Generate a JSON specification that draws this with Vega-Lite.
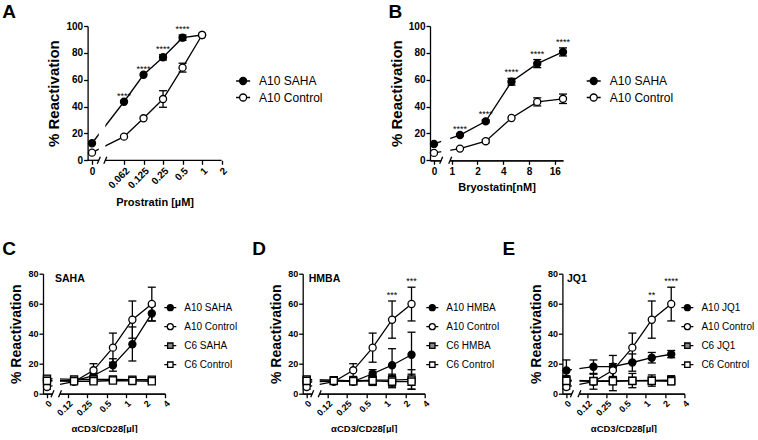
{
  "$schema": "https://vega.github.io/schema/vega-lite/v6.json",
  "background": "white",
  "padding": {"left": 2, "top": 3, "right": 0, "bottom": 0},
  "config": {
    "view": {"stroke": null},
    "font": "Liberation Sans",
    "axis": {"grid": false, "domainColor": "black", "tickColor": "black", "domainWidth": 1.3, "tickWidth": 1.3, "tickSize": 4, "labelColor": "black", "labelFont": "Liberation Sans", "labelFontWeight": "bold", "labelFontSize": 10, "labelPadding": 1, "labelOverlap": false, "titleColor": "black", "titleFont": "Liberation Sans", "titleFontWeight": "bold"},
    "legend": {"labelFont": "Liberation Sans", "labelColor": "black", "padding": 0},
    "title": {"font": "Liberation Sans", "fontSize": 19, "fontWeight": "bold", "anchor": "start", "frame": "group", "color": "black"}
  },
  "spacing": 31.7,
  "resolve": {"scale": {"color": "independent", "shape": "independent"}, "legend": {"color": "independent", "shape": "independent"}},
  "vconcat": [
    {
      "spacing": 208,
      "bounds": "flush",
      "resolve": {"scale": {"color": "independent", "shape": "independent"}, "legend": {"color": "independent", "shape": "independent"}},
      "hconcat": [
        {
          "width": 178.6, "height": 134.3,
          "title": {"text": "A", "dx": -40.7, "offset": -1},
          "data": {"values": [
            {"series": "A10 SAHA", "dose": 0, "mean": 12.7, "lo": 12.7, "hi": 12.7},
            {"series": "A10 SAHA", "dose": 0.0625, "mean": 43.6, "lo": 43.6, "hi": 43.6, "sig": "****"},
            {"series": "A10 SAHA", "dose": 0.125, "mean": 63.7, "lo": 63.7, "hi": 63.7, "sig": "****"},
            {"series": "A10 SAHA", "dose": 0.25, "mean": 76.7, "lo": 74.7, "hi": 78.7, "sig": "****"},
            {"series": "A10 SAHA", "dose": 0.5, "mean": 91.3, "lo": 89.3, "hi": 93.3, "sig": "****"},
            {"series": "A10 SAHA", "dose": 1, "mean": 93.3, "lo": 93.3, "hi": 93.3},
            {"series": "A10 Control", "dose": 0, "mean": 5.7, "lo": 5.7, "hi": 5.7},
            {"series": "A10 Control", "dose": 0.0625, "mean": 17.6, "lo": 17.6, "hi": 17.6},
            {"series": "A10 Control", "dose": 0.125, "mean": 31.3, "lo": 31.3, "hi": 31.3},
            {"series": "A10 Control", "dose": 0.25, "mean": 45.6, "lo": 39.5, "hi": 51.8},
            {"series": "A10 Control", "dose": 0.5, "mean": 69, "lo": 65.7, "hi": 72.3},
            {"series": "A10 Control", "dose": 1, "mean": 93.3, "lo": 93.3, "hi": 93.3}
          ]},
          "encoding": {"y": {"field": "mean", "type": "quantitative", "scale": {"domain": [0, 100], "nice": false}, "axis": {"values": [0, 20, 40, 60, 80, 100], "title": "% Reactivation", "titleFontSize": 15, "titlePadding": 4, "offset": -44.6}}},
          "layer": [
            {
              "encoding": {"x": {"field": "dose", "type": "quantitative", "scale": {"domain": [-0.0957, 0.2531], "nice": false, "zero": false}, "axis": {"values": [0], "labelExpr": "'0'", "title": null, "orient": "bottom", "labelAngle": 0, "labelPadding": 2, "domain": false}}},
              "layer": [
                {"transform": [{"filter": "datum.dose <= 0.0625"}], "mark": {"type": "line", "color": "black", "strokeWidth": 1.3}, "encoding": {"detail": {"field": "series"}}},
                {"transform": [{"filter": "datum.dose == 0 && datum.series == 'A10 Control'"}], "mark": {"type": "rect", "color": "white"}, "encoding": {"x": {"datum": 0.01328}, "x2": {"datum": 0.02598}, "y": {"datum": -4}, "y2": {"datum": 100}}},
                {"transform": [{"filter": "datum.dose == 0 && datum.series == 'A10 Control'"}], "mark": {"type": "rule", "color": "black", "strokeWidth": 1.3}, "encoding": {"x": {"datum": -0.0086}, "x2": {"datum": 0.01328}, "y": {"datum": 0}}},
                {"transform": [{"filter": "datum.dose == 0 && datum.series == 'A10 Control'"}], "mark": {"type": "rule", "color": "black", "strokeWidth": 1.3}, "encoding": {"x": {"datum": 0.02598}, "x2": {"datum": 0.2531}, "y": {"datum": 0}}},
                {"transform": [{"filter": "datum.dose == 0 && datum.series == 'A10 Control'"}], "mark": {"type": "rule", "color": "black", "strokeWidth": 1.3}, "encoding": {"x": {"datum": 0.01035}, "x2": {"datum": 0.01621}, "y": {"datum": -2.6}, "y2": {"datum": 2.6}}},
                {"transform": [{"filter": "datum.dose == 0 && datum.series == 'A10 Control'"}], "mark": {"type": "rule", "color": "black", "strokeWidth": 1.3}, "encoding": {"x": {"datum": 0.02305}, "x2": {"datum": 0.02891}, "y": {"datum": -2.6}, "y2": {"datum": 2.6}}},
                {"transform": [{"filter": "datum.dose == 0"}], "mark": {"type": "point", "shape": "circle", "filled": true, "stroke": "black", "strokeWidth": 1.3, "opacity": 1, "size": 50},
                 "encoding": {"fill": {"condition": {"test": "datum.series == 'A10 SAHA'", "value": "black"}, "value": "white"}}}
              ]
            },
            {
              "encoding": {"x": {"field": "dose", "type": "quantitative", "scale": {"type": "log", "domain": [0.003521, 2], "nice": false}, "axis": {"values": [0.0625, 0.125, 0.25, 0.5, 1, 2], "labelExpr": "datum.value == 0.0625 ? '0.062' : format(datum.value, '~g')", "labelAngle": -45, "title": "Prostratin [µM]", "titleFontSize": 11, "titlePadding": 6, "titleX": 111.6, "orient": "bottom", "domain": false}}},
              "layer": [
                {"transform": [{"filter": "datum.dose > 0"}], "mark": {"type": "line", "color": "black", "strokeWidth": 1.3}, "encoding": {"detail": {"field": "series"}}},
                {"transform": [{"filter": "datum.dose > 0 && datum.hi > datum.lo"}], "mark": {"type": "rule", "color": "black", "strokeWidth": 1.3}, "encoding": {"y": {"field": "lo", "type": "quantitative"}, "y2": {"field": "hi"}}},
                {"transform": [{"filter": "datum.dose > 0 && datum.hi > datum.lo"}], "mark": {"type": "tick", "orient": "horizontal", "color": "black", "size": 8, "thickness": 1.3, "opacity": 1}, "encoding": {"y": {"field": "lo", "type": "quantitative"}}},
                {"transform": [{"filter": "datum.dose > 0 && datum.hi > datum.lo"}], "mark": {"type": "tick", "orient": "horizontal", "color": "black", "size": 8, "thickness": 1.3, "opacity": 1}, "encoding": {"y": {"field": "hi", "type": "quantitative"}}},
                {"transform": [{"filter": "datum.dose > 0"}], "mark": {"type": "point", "shape": "circle", "filled": true, "stroke": "black", "strokeWidth": 1.3, "opacity": 1, "size": 50},
                 "encoding": {"fill": {"condition": {"test": "datum.series == 'A10 SAHA'", "value": "black"}, "value": "white"}}},
                {"transform": [{"filter": "datum.dose > 0 && datum.sig"}], "mark": {"type": "text", "baseline": "alphabetic", "dy": -3, "fontSize": 9, "color": "black"}, "encoding": {"y": {"field": "hi", "type": "quantitative"}, "text": {"field": "sig"}}},
                {"transform": [{"filter": "datum.dose < 0"}], "mark": {"type": "point", "filled": true, "stroke": "black", "strokeWidth": 1.3, "opacity": 1},
                 "encoding": {
                   "color": {"field": "series", "type": "nominal", "scale": {"domain": ["A10 SAHA", "A10 Control"], "range": ["black", "white"]}, "legend": {"orient": "none", "legendX": 192.1, "legendY": 47, "title": null, "labelFontSize": 12, "symbolSize": 196, "rowPadding": 1.5, "labelOffset": 8, "symbolStrokeColor": "black", "symbolStrokeWidth": 1.3}},
                   "shape": {"field": "series", "type": "nominal", "scale": {"domain": ["A10 SAHA", "A10 Control"], "range": ["M-1,0L-0.5,0M0.5,0L1,0M0.5,0A0.5,0.5,0,1,1,-0.5,0A0.5,0.5,0,1,1,0.5,0Z", "M-1,0L-0.5,0M0.5,0L1,0M0.5,0A0.5,0.5,0,1,1,-0.5,0A0.5,0.5,0,1,1,0.5,0Z"]}, "legend": {"orient": "none", "legendX": 192.1, "legendY": 47, "title": null, "labelFontSize": 12, "symbolSize": 196, "rowPadding": 1.5, "labelOffset": 8, "symbolStrokeColor": "black", "symbolStrokeWidth": 1.3}}}}
              ]
            }
          ],
          "resolve": {"scale": {"x": "independent"}, "axis": {"x": "independent"}}
        },
        {
          "width": 133, "height": 134.3,
          "title": {"text": "B", "dx": -41.5, "offset": -1},
          "data": {"values": [
            {"series": "A10 SAHA", "dose": 0, "mean": 12.2, "lo": 12.2, "hi": 12.2},
            {"series": "A10 SAHA", "dose": 1.25, "mean": 18.8, "lo": 18.8, "hi": 18.8, "sig": "****"},
            {"series": "A10 SAHA", "dose": 2.5, "mean": 29, "lo": 28, "hi": 30, "sig": "****"},
            {"series": "A10 SAHA", "dose": 5, "mean": 58.5, "lo": 56, "hi": 61, "sig": "****"},
            {"series": "A10 SAHA", "dose": 10, "mean": 72, "lo": 69, "hi": 75, "sig": "****"},
            {"series": "A10 SAHA", "dose": 20, "mean": 80.7, "lo": 77.7, "hi": 83.7, "sig": "****"},
            {"series": "A10 Control", "dose": 0, "mean": 5.5, "lo": 5.5, "hi": 5.5},
            {"series": "A10 Control", "dose": 1.25, "mean": 8.7, "lo": 8.7, "hi": 8.7},
            {"series": "A10 Control", "dose": 2.5, "mean": 14.2, "lo": 13, "hi": 15.4},
            {"series": "A10 Control", "dose": 5, "mean": 31.5, "lo": 31.5, "hi": 31.5},
            {"series": "A10 Control", "dose": 10, "mean": 43.5, "lo": 40.5, "hi": 46.5},
            {"series": "A10 Control", "dose": 20, "mean": 45.8, "lo": 42.3, "hi": 49.3}
          ]},
          "encoding": {"y": {"field": "mean", "type": "quantitative", "scale": {"domain": [0, 100], "nice": false}, "axis": {"values": [0, 20, 40, 60, 80, 100], "title": "% Reactivation", "titleFontSize": 15, "titlePadding": 4}}},
          "layer": [
            {
              "encoding": {"x": {"field": "dose", "type": "quantitative", "scale": {"domain": [-0.1923, 6.202], "nice": false, "zero": false}, "axis": {"values": [0], "labelExpr": "'0'", "title": null, "orient": "bottom", "labelAngle": 0, "labelPadding": 2}}},
              "layer": [
                {"transform": [{"filter": "datum.dose <= 1.25"}], "mark": {"type": "line", "color": "black", "strokeWidth": 1.3}, "encoding": {"detail": {"field": "series"}}},
                {"transform": [{"filter": "datum.dose == 0 && datum.series == 'A10 Control'"}], "mark": {"type": "rect", "color": "white"}, "encoding": {"x": {"datum": 0.3462}, "x2": {"datum": 0.7788}, "y": {"datum": -4}, "y2": {"datum": 100}}},
                {"transform": [{"filter": "datum.dose == 0 && datum.series == 'A10 Control'"}], "mark": {"type": "rule", "color": "black", "strokeWidth": 1.3}, "encoding": {"x": {"datum": 0.274}, "x2": {"datum": 0.4183}, "y": {"datum": -2.6}, "y2": {"datum": 2.6}}},
                {"transform": [{"filter": "datum.dose == 0 && datum.series == 'A10 Control'"}], "mark": {"type": "rule", "color": "black", "strokeWidth": 1.3}, "encoding": {"x": {"datum": 0.7067}, "x2": {"datum": 0.851}, "y": {"datum": -2.6}, "y2": {"datum": 2.6}}},
                {"transform": [{"filter": "datum.dose == 0"}], "mark": {"type": "point", "shape": "circle", "filled": true, "stroke": "black", "strokeWidth": 1.3, "opacity": 1, "size": 50},
                 "encoding": {"fill": {"condition": {"test": "datum.series == 'A10 SAHA'", "value": "black"}, "value": "white"}}}
              ]
            },
            {
              "encoding": {"x": {"field": "dose", "type": "quantitative", "scale": {"type": "log", "domain": [0.558, 20], "nice": false}, "axis": {"values": [1, 2, 4, 8, 16], "labelExpr": "format(datum.value, 'd')", "labelAngle": 0, "labelPadding": 2, "title": "Bryostatin[nM]", "titleFontSize": 11, "titlePadding": 5, "orient": "bottom"}}},
              "layer": [
                {"transform": [{"filter": "datum.dose > 0"}], "mark": {"type": "line", "color": "black", "strokeWidth": 1.3}, "encoding": {"detail": {"field": "series"}}},
                {"transform": [{"filter": "datum.dose > 0 && datum.hi > datum.lo"}], "mark": {"type": "rule", "color": "black", "strokeWidth": 1.3}, "encoding": {"y": {"field": "lo", "type": "quantitative"}, "y2": {"field": "hi"}}},
                {"transform": [{"filter": "datum.dose > 0 && datum.hi > datum.lo"}], "mark": {"type": "tick", "orient": "horizontal", "color": "black", "size": 8, "thickness": 1.3, "opacity": 1}, "encoding": {"y": {"field": "lo", "type": "quantitative"}}},
                {"transform": [{"filter": "datum.dose > 0 && datum.hi > datum.lo"}], "mark": {"type": "tick", "orient": "horizontal", "color": "black", "size": 8, "thickness": 1.3, "opacity": 1}, "encoding": {"y": {"field": "hi", "type": "quantitative"}}},
                {"transform": [{"filter": "datum.dose > 0"}], "mark": {"type": "point", "shape": "circle", "filled": true, "stroke": "black", "strokeWidth": 1.3, "opacity": 1, "size": 50},
                 "encoding": {"fill": {"condition": {"test": "datum.series == 'A10 SAHA'", "value": "black"}, "value": "white"}}},
                {"transform": [{"filter": "datum.dose > 0 && datum.sig"}], "mark": {"type": "text", "baseline": "alphabetic", "dy": -3, "fontSize": 9, "color": "black"}, "encoding": {"y": {"field": "hi", "type": "quantitative"}, "text": {"field": "sig"}}},
                {"transform": [{"filter": "datum.dose < 0"}], "mark": {"type": "point", "filled": true, "stroke": "black", "strokeWidth": 1.3, "opacity": 1},
                 "encoding": {
                   "color": {"field": "series", "type": "nominal", "scale": {"domain": ["A10 SAHA", "A10 Control"], "range": ["black", "white"]}, "legend": {"orient": "none", "legendX": 155.7, "legendY": 47, "title": null, "labelFontSize": 12, "symbolSize": 196, "rowPadding": 1.5, "labelOffset": 8, "symbolStrokeColor": "black", "symbolStrokeWidth": 1.3}},
                   "shape": {"field": "series", "type": "nominal", "scale": {"domain": ["A10 SAHA", "A10 Control"], "range": ["M-1,0L-0.5,0M0.5,0L1,0M0.5,0A0.5,0.5,0,1,1,-0.5,0A0.5,0.5,0,1,1,0.5,0Z", "M-1,0L-0.5,0M0.5,0L1,0M0.5,0A0.5,0.5,0,1,1,-0.5,0A0.5,0.5,0,1,1,0.5,0Z"]}, "legend": {"orient": "none", "legendX": 155.7, "legendY": 47, "title": null, "labelFontSize": 12, "symbolSize": 196, "rowPadding": 1.5, "labelOffset": 8, "symbolStrokeColor": "black", "symbolStrokeWidth": 1.3}}}}
              ]
            }
          ],
          "resolve": {"scale": {"x": "independent"}, "axis": {"x": "independent"}}
        }
      ]
    },
    {
      "spacing": 137.7,
      "bounds": "flush",
      "resolve": {"scale": {"color": "independent", "shape": "independent"}, "legend": {"color": "independent", "shape": "independent"}},
      "hconcat": [
        {
          "width": 122, "height": 120,
          "title": {"text": "C", "dx": -40.7, "offset": 11},
          "data": {"values": [
            {"series": "A10 SAHA", "dose": 0, "mean": 9, "lo": 9, "hi": 9},
            {"series": "A10 SAHA", "dose": 0.15625, "mean": 8.5, "lo": 8.5, "hi": 8.5},
            {"series": "A10 SAHA", "dose": 0.3125, "mean": 12, "lo": 10, "hi": 14},
            {"series": "A10 SAHA", "dose": 0.625, "mean": 19, "lo": 15, "hi": 23.3},
            {"series": "A10 SAHA", "dose": 1.25, "mean": 33, "lo": 21.8, "hi": 44.5},
            {"series": "A10 SAHA", "dose": 2.5, "mean": 53.5, "lo": 48.5, "hi": 58.5},
            {"series": "A10 Control", "dose": 0, "mean": 4.5, "lo": 3, "hi": 6},
            {"series": "A10 Control", "dose": 0.15625, "mean": 8, "lo": 8, "hi": 8},
            {"series": "A10 Control", "dose": 0.3125, "mean": 15.6, "lo": 11.5, "hi": 20},
            {"series": "A10 Control", "dose": 0.625, "mean": 30.7, "lo": 21, "hi": 40.4},
            {"series": "A10 Control", "dose": 1.25, "mean": 49.3, "lo": 37, "hi": 61.8},
            {"series": "A10 Control", "dose": 2.5, "mean": 59.8, "lo": 48.5, "hi": 71},
            {"series": "C6 SAHA", "dose": 0, "mean": 10, "lo": 8.5, "hi": 11.5},
            {"series": "C6 SAHA", "dose": 0.15625, "mean": 9.5, "lo": 8.5, "hi": 10.5},
            {"series": "C6 SAHA", "dose": 0.3125, "mean": 9.5, "lo": 9.5, "hi": 9.5},
            {"series": "C6 SAHA", "dose": 0.625, "mean": 9.5, "lo": 9.5, "hi": 9.5},
            {"series": "C6 SAHA", "dose": 1.25, "mean": 9.3, "lo": 9.3, "hi": 9.3},
            {"series": "C6 SAHA", "dose": 2.5, "mean": 9.3, "lo": 9.3, "hi": 9.3},
            {"series": "C6 Control", "dose": 0, "mean": 8.5, "lo": 7, "hi": 10},
            {"series": "C6 Control", "dose": 0.15625, "mean": 8.3, "lo": 8.3, "hi": 8.3},
            {"series": "C6 Control", "dose": 0.3125, "mean": 8.3, "lo": 7, "hi": 9.6},
            {"series": "C6 Control", "dose": 0.625, "mean": 8.8, "lo": 8.8, "hi": 8.8},
            {"series": "C6 Control", "dose": 1.25, "mean": 8.5, "lo": 8.5, "hi": 8.5},
            {"series": "C6 Control", "dose": 2.5, "mean": 8.3, "lo": 8.3, "hi": 8.3}
          ]},
          "encoding": {"y": {"field": "mean", "type": "quantitative", "scale": {"domain": [0, 80], "nice": false}, "axis": {"values": [0, 20, 40, 60, 80], "title": "% Reactivation", "titleFontSize": 14, "labelFontSize": 9, "titlePadding": 4}}},
          "layer": [
            {
              "encoding": {"x": {"field": "dose", "type": "quantitative", "scale": {"domain": [-0.02315, 0.6829], "nice": false, "zero": false}, "axis": {"values": [0], "labelExpr": "'0'", "title": null, "orient": "bottom", "labelAngle": -45, "labelFontSize": 9}}},
              "layer": [
                {"transform": [{"filter": "datum.dose <= 0.15625"}], "mark": {"type": "line", "color": "black", "strokeWidth": 1.3}, "encoding": {"detail": {"field": "series"}}},
                {"transform": [{"filter": "datum.dose == 0 && datum.series == 'A10 Control'"}], "mark": {"type": "rect", "color": "white"}, "encoding": {"x": {"datum": 0.03183}, "x2": {"datum": 0.07523}, "y": {"datum": -4}, "y2": {"datum": 80}}},
                {"transform": [{"filter": "datum.dose == 0 && datum.series == 'A10 Control'"}], "mark": {"type": "rule", "color": "black", "strokeWidth": 1.3}, "encoding": {"x": {"datum": 0.02315}, "x2": {"datum": 0.04051}, "y": {"datum": -2.3}, "y2": {"datum": 2.3}}},
                {"transform": [{"filter": "datum.dose == 0 && datum.series == 'A10 Control'"}], "mark": {"type": "rule", "color": "black", "strokeWidth": 1.3}, "encoding": {"x": {"datum": 0.06655}, "x2": {"datum": 0.08391}, "y": {"datum": -2.3}, "y2": {"datum": 2.3}}},
                {"transform": [{"filter": "datum.dose == 0 && datum.hi > datum.lo"}], "mark": {"type": "rule", "color": "black", "strokeWidth": 1.3}, "encoding": {"y": {"field": "lo", "type": "quantitative"}, "y2": {"field": "hi"}}},
                {"transform": [{"filter": "datum.dose == 0 && datum.hi > datum.lo"}], "mark": {"type": "tick", "orient": "horizontal", "color": "black", "size": 8, "thickness": 1.3, "opacity": 1}, "encoding": {"y": {"field": "lo", "type": "quantitative"}}},
                {"transform": [{"filter": "datum.dose == 0 && datum.hi > datum.lo"}], "mark": {"type": "tick", "orient": "horizontal", "color": "black", "size": 8, "thickness": 1.3, "opacity": 1}, "encoding": {"y": {"field": "hi", "type": "quantitative"}}},
                {"transform": [{"filter": "datum.dose == 0 && indexof(datum.series, 'C6') != 0"}], "mark": {"type": "point", "shape": "circle", "filled": true, "stroke": "black", "strokeWidth": 1.3, "opacity": 1, "size": 50},
                 "encoding": {"fill": {"condition": {"test": "datum.series == 'A10 SAHA'", "value": "black"}, "value": "white"}}},
                {"transform": [{"filter": "datum.dose == 0 && indexof(datum.series, 'C6') == 0"}], "mark": {"type": "point", "shape": "square", "filled": true, "stroke": "black", "strokeWidth": 1.3, "opacity": 1, "size": 50},
                 "encoding": {"fill": {"condition": {"test": "datum.series == 'C6 SAHA'", "value": "#8a8a8a"}, "value": "white"}}}
              ]
            },
            {
              "encoding": {"x": {"field": "dose", "type": "quantitative", "scale": {"type": "log", "domain": [0.05162, 4], "nice": false}, "axis": {"values": [0.125, 0.25, 0.5, 1, 2, 4], "labelExpr": "datum.value == 0.125 ? '0.12' : format(datum.value, '~g')", "labelAngle": -45, "labelFontSize": 9, "title": "αCD3/CD28[µl]", "titleFontSize": 9.5, "titlePadding": 6, "orient": "bottom"}}},
              "layer": [
                {"transform": [{"filter": "datum.dose > 0"}], "mark": {"type": "line", "color": "black", "strokeWidth": 1.3}, "encoding": {"detail": {"field": "series"}}},
                {"transform": [{"filter": "datum.dose > 0 && datum.hi > datum.lo"}], "mark": {"type": "rule", "color": "black", "strokeWidth": 1.3}, "encoding": {"y": {"field": "lo", "type": "quantitative"}, "y2": {"field": "hi"}}},
                {"transform": [{"filter": "datum.dose > 0 && datum.hi > datum.lo"}], "mark": {"type": "tick", "orient": "horizontal", "color": "black", "size": 8, "thickness": 1.3, "opacity": 1}, "encoding": {"y": {"field": "lo", "type": "quantitative"}}},
                {"transform": [{"filter": "datum.dose > 0 && datum.hi > datum.lo"}], "mark": {"type": "tick", "orient": "horizontal", "color": "black", "size": 8, "thickness": 1.3, "opacity": 1}, "encoding": {"y": {"field": "hi", "type": "quantitative"}}},
                {"transform": [{"filter": "datum.dose > 0 && indexof(datum.series, 'C6') != 0"}], "mark": {"type": "point", "shape": "circle", "filled": true, "stroke": "black", "strokeWidth": 1.3, "opacity": 1, "size": 50},
                 "encoding": {"fill": {"condition": {"test": "datum.series == 'A10 SAHA'", "value": "black"}, "value": "white"}}},
                {"transform": [{"filter": "datum.dose > 0 && indexof(datum.series, 'C6') == 0"}], "mark": {"type": "point", "shape": "square", "filled": true, "stroke": "black", "strokeWidth": 1.3, "opacity": 1, "size": 50},
                 "encoding": {"fill": {"condition": {"test": "datum.series == 'C6 SAHA'", "value": "#8a8a8a"}, "value": "white"}}},
                {"transform": [{"filter": "datum.dose > 0 && datum.sig"}], "mark": {"type": "text", "baseline": "alphabetic", "dy": -3, "fontSize": 9, "color": "black"}, "encoding": {"y": {"field": "hi", "type": "quantitative"}, "text": {"field": "sig"}}},
                {"transform": [{"filter": "datum.dose == 0 && datum.series == 'A10 Control'"}], "mark": {"type": "text", "text": "SAHA", "align": "left", "baseline": "middle", "fontSize": 10.5, "fontWeight": "bold", "color": "black"}, "encoding": {"x": {"datum": 0.0792}, "y": {"datum": 76.7}}},
                {"transform": [{"filter": "datum.dose < 0"}], "mark": {"type": "point", "filled": true, "stroke": "black", "strokeWidth": 1.3, "opacity": 1},
                 "encoding": {
                   "color": {"field": "series", "type": "nominal", "scale": {"domain": ["A10 SAHA", "A10 Control", "C6 SAHA", "C6 Control"], "range": ["black", "white", "#8a8a8a", "white"]}, "legend": {"orient": "none", "legendX": 120.3, "legendY": 27, "title": null, "labelFontSize": 10, "symbolSize": 144, "rowPadding": 6, "labelOffset": 7, "symbolStrokeColor": "black", "symbolStrokeWidth": 1.3}},
                   "shape": {"field": "series", "type": "nominal", "scale": {"domain": ["A10 SAHA", "A10 Control", "C6 SAHA", "C6 Control"], "range": ["M-1,0L-0.5,0M0.5,0L1,0M0.5,0A0.5,0.5,0,1,1,-0.5,0A0.5,0.5,0,1,1,0.5,0Z", "M-1,0L-0.5,0M0.5,0L1,0M0.5,0A0.5,0.5,0,1,1,-0.5,0A0.5,0.5,0,1,1,0.5,0Z", "M-1,0L-0.45,0M0.45,0L1,0M-0.45,-0.45L0.45,-0.45L0.45,0.45L-0.45,0.45Z", "M-1,0L-0.45,0M0.45,0L1,0M-0.45,-0.45L0.45,-0.45L0.45,0.45L-0.45,0.45Z"]}, "legend": {"orient": "none", "legendX": 120.3, "legendY": 27, "title": null, "labelFontSize": 10, "symbolSize": 144, "rowPadding": 6, "labelOffset": 7, "symbolStrokeColor": "black", "symbolStrokeWidth": 1.3}}}}
              ]
            }
          ],
          "resolve": {"scale": {"x": "independent"}, "axis": {"x": "independent"}}
        },
        {
          "width": 122, "height": 120,
          "title": {"text": "D", "dx": -50.4, "offset": 11},
          "data": {"values": [
            {"series": "A10 HMBA", "dose": 0, "mean": 7.5, "lo": 7.5, "hi": 7.5},
            {"series": "A10 HMBA", "dose": 0.15625, "mean": 8.5, "lo": 8.5, "hi": 8.5},
            {"series": "A10 HMBA", "dose": 0.3125, "mean": 8, "lo": 6.5, "hi": 9.5},
            {"series": "A10 HMBA", "dose": 0.625, "mean": 13.3, "lo": 10.5, "hi": 16},
            {"series": "A10 HMBA", "dose": 1.25, "mean": 19, "lo": 8, "hi": 30},
            {"series": "A10 HMBA", "dose": 2.5, "mean": 26, "lo": 11, "hi": 41},
            {"series": "A10 Control", "dose": 0, "mean": 4.5, "lo": 3, "hi": 6},
            {"series": "A10 Control", "dose": 0.15625, "mean": 8, "lo": 8, "hi": 8},
            {"series": "A10 Control", "dose": 0.3125, "mean": 15.6, "lo": 11.5, "hi": 20},
            {"series": "A10 Control", "dose": 0.625, "mean": 30.7, "lo": 21, "hi": 40.4},
            {"series": "A10 Control", "dose": 1.25, "mean": 49.3, "lo": 37, "hi": 61.8, "sig": "***"},
            {"series": "A10 Control", "dose": 2.5, "mean": 59.8, "lo": 48.5, "hi": 71, "sig": "***"},
            {"series": "C6 HMBA", "dose": 0, "mean": 9.5, "lo": 8, "hi": 11},
            {"series": "C6 HMBA", "dose": 0.15625, "mean": 9, "lo": 9, "hi": 9},
            {"series": "C6 HMBA", "dose": 0.3125, "mean": 8.5, "lo": 6.5, "hi": 10.5},
            {"series": "C6 HMBA", "dose": 0.625, "mean": 9, "lo": 6, "hi": 12},
            {"series": "C6 HMBA", "dose": 1.25, "mean": 9, "lo": 5, "hi": 13},
            {"series": "C6 HMBA", "dose": 2.5, "mean": 9.5, "lo": 3, "hi": 16},
            {"series": "C6 Control", "dose": 0, "mean": 8.5, "lo": 8.5, "hi": 8.5},
            {"series": "C6 Control", "dose": 0.15625, "mean": 8.5, "lo": 8.5, "hi": 8.5},
            {"series": "C6 Control", "dose": 0.3125, "mean": 8.3, "lo": 8.3, "hi": 8.3},
            {"series": "C6 Control", "dose": 0.625, "mean": 8.5, "lo": 5.5, "hi": 11.5},
            {"series": "C6 Control", "dose": 1.25, "mean": 8, "lo": 4, "hi": 12},
            {"series": "C6 Control", "dose": 2.5, "mean": 8, "lo": 3, "hi": 13}
          ]},
          "encoding": {"y": {"field": "mean", "type": "quantitative", "scale": {"domain": [0, 80], "nice": false}, "axis": {"values": [0, 20, 40, 60, 80], "title": "% Reactivation", "titleFontSize": 14, "labelFontSize": 9, "titlePadding": 4}}},
          "layer": [
            {
              "encoding": {"x": {"field": "dose", "type": "quantitative", "scale": {"domain": [-0.02315, 0.6829], "nice": false, "zero": false}, "axis": {"values": [0], "labelExpr": "'0'", "title": null, "orient": "bottom", "labelAngle": -45, "labelFontSize": 9}}},
              "layer": [
                {"transform": [{"filter": "datum.dose <= 0.15625"}], "mark": {"type": "line", "color": "black", "strokeWidth": 1.3}, "encoding": {"detail": {"field": "series"}}},
                {"transform": [{"filter": "datum.dose == 0 && datum.series == 'A10 Control'"}], "mark": {"type": "rect", "color": "white"}, "encoding": {"x": {"datum": 0.03183}, "x2": {"datum": 0.07523}, "y": {"datum": -4}, "y2": {"datum": 80}}},
                {"transform": [{"filter": "datum.dose == 0 && datum.series == 'A10 Control'"}], "mark": {"type": "rule", "color": "black", "strokeWidth": 1.3}, "encoding": {"x": {"datum": 0.02315}, "x2": {"datum": 0.04051}, "y": {"datum": -2.3}, "y2": {"datum": 2.3}}},
                {"transform": [{"filter": "datum.dose == 0 && datum.series == 'A10 Control'"}], "mark": {"type": "rule", "color": "black", "strokeWidth": 1.3}, "encoding": {"x": {"datum": 0.06655}, "x2": {"datum": 0.08391}, "y": {"datum": -2.3}, "y2": {"datum": 2.3}}},
                {"transform": [{"filter": "datum.dose == 0 && datum.hi > datum.lo"}], "mark": {"type": "rule", "color": "black", "strokeWidth": 1.3}, "encoding": {"y": {"field": "lo", "type": "quantitative"}, "y2": {"field": "hi"}}},
                {"transform": [{"filter": "datum.dose == 0 && datum.hi > datum.lo"}], "mark": {"type": "tick", "orient": "horizontal", "color": "black", "size": 8, "thickness": 1.3, "opacity": 1}, "encoding": {"y": {"field": "lo", "type": "quantitative"}}},
                {"transform": [{"filter": "datum.dose == 0 && datum.hi > datum.lo"}], "mark": {"type": "tick", "orient": "horizontal", "color": "black", "size": 8, "thickness": 1.3, "opacity": 1}, "encoding": {"y": {"field": "hi", "type": "quantitative"}}},
                {"transform": [{"filter": "datum.dose == 0 && indexof(datum.series, 'C6') != 0"}], "mark": {"type": "point", "shape": "circle", "filled": true, "stroke": "black", "strokeWidth": 1.3, "opacity": 1, "size": 50},
                 "encoding": {"fill": {"condition": {"test": "datum.series == 'A10 HMBA'", "value": "black"}, "value": "white"}}},
                {"transform": [{"filter": "datum.dose == 0 && indexof(datum.series, 'C6') == 0"}], "mark": {"type": "point", "shape": "square", "filled": true, "stroke": "black", "strokeWidth": 1.3, "opacity": 1, "size": 50},
                 "encoding": {"fill": {"condition": {"test": "datum.series == 'C6 HMBA'", "value": "#8a8a8a"}, "value": "white"}}}
              ]
            },
            {
              "encoding": {"x": {"field": "dose", "type": "quantitative", "scale": {"type": "log", "domain": [0.05162, 4], "nice": false}, "axis": {"values": [0.125, 0.25, 0.5, 1, 2, 4], "labelExpr": "datum.value == 0.125 ? '0.12' : format(datum.value, '~g')", "labelAngle": -45, "labelFontSize": 9, "title": "αCD3/CD28[µl]", "titleFontSize": 9.5, "titlePadding": 6, "orient": "bottom"}}},
              "layer": [
                {"transform": [{"filter": "datum.dose > 0"}], "mark": {"type": "line", "color": "black", "strokeWidth": 1.3}, "encoding": {"detail": {"field": "series"}}},
                {"transform": [{"filter": "datum.dose > 0 && datum.hi > datum.lo"}], "mark": {"type": "rule", "color": "black", "strokeWidth": 1.3}, "encoding": {"y": {"field": "lo", "type": "quantitative"}, "y2": {"field": "hi"}}},
                {"transform": [{"filter": "datum.dose > 0 && datum.hi > datum.lo"}], "mark": {"type": "tick", "orient": "horizontal", "color": "black", "size": 8, "thickness": 1.3, "opacity": 1}, "encoding": {"y": {"field": "lo", "type": "quantitative"}}},
                {"transform": [{"filter": "datum.dose > 0 && datum.hi > datum.lo"}], "mark": {"type": "tick", "orient": "horizontal", "color": "black", "size": 8, "thickness": 1.3, "opacity": 1}, "encoding": {"y": {"field": "hi", "type": "quantitative"}}},
                {"transform": [{"filter": "datum.dose > 0 && indexof(datum.series, 'C6') != 0"}], "mark": {"type": "point", "shape": "circle", "filled": true, "stroke": "black", "strokeWidth": 1.3, "opacity": 1, "size": 50},
                 "encoding": {"fill": {"condition": {"test": "datum.series == 'A10 HMBA'", "value": "black"}, "value": "white"}}},
                {"transform": [{"filter": "datum.dose > 0 && indexof(datum.series, 'C6') == 0"}], "mark": {"type": "point", "shape": "square", "filled": true, "stroke": "black", "strokeWidth": 1.3, "opacity": 1, "size": 50},
                 "encoding": {"fill": {"condition": {"test": "datum.series == 'C6 HMBA'", "value": "#8a8a8a"}, "value": "white"}}},
                {"transform": [{"filter": "datum.dose > 0 && datum.sig"}], "mark": {"type": "text", "baseline": "alphabetic", "dy": -3, "fontSize": 9, "color": "black"}, "encoding": {"y": {"field": "hi", "type": "quantitative"}, "text": {"field": "sig"}}},
                {"transform": [{"filter": "datum.dose == 0 && datum.series == 'A10 Control'"}], "mark": {"type": "text", "text": "HMBA", "align": "left", "baseline": "middle", "fontSize": 10.5, "fontWeight": "bold", "color": "black"}, "encoding": {"x": {"datum": 0.064}, "y": {"datum": 76.7}}},
                {"transform": [{"filter": "datum.dose < 0"}], "mark": {"type": "point", "filled": true, "stroke": "black", "strokeWidth": 1.3, "opacity": 1},
                 "encoding": {
                   "color": {"field": "series", "type": "nominal", "scale": {"domain": ["A10 HMBA", "A10 Control", "C6 HMBA", "C6 Control"], "range": ["black", "white", "#8a8a8a", "white"]}, "legend": {"orient": "none", "legendX": 122.6, "legendY": 27, "title": null, "labelFontSize": 10, "symbolSize": 144, "rowPadding": 6, "labelOffset": 7, "symbolStrokeColor": "black", "symbolStrokeWidth": 1.3}},
                   "shape": {"field": "series", "type": "nominal", "scale": {"domain": ["A10 HMBA", "A10 Control", "C6 HMBA", "C6 Control"], "range": ["M-1,0L-0.5,0M0.5,0L1,0M0.5,0A0.5,0.5,0,1,1,-0.5,0A0.5,0.5,0,1,1,0.5,0Z", "M-1,0L-0.5,0M0.5,0L1,0M0.5,0A0.5,0.5,0,1,1,-0.5,0A0.5,0.5,0,1,1,0.5,0Z", "M-1,0L-0.45,0M0.45,0L1,0M-0.45,-0.45L0.45,-0.45L0.45,0.45L-0.45,0.45Z", "M-1,0L-0.45,0M0.45,0L1,0M-0.45,-0.45L0.45,-0.45L0.45,0.45L-0.45,0.45Z"]}, "legend": {"orient": "none", "legendX": 122.6, "legendY": 27, "title": null, "labelFontSize": 10, "symbolSize": 144, "rowPadding": 6, "labelOffset": 7, "symbolStrokeColor": "black", "symbolStrokeWidth": 1.3}}}}
              ]
            }
          ],
          "resolve": {"scale": {"x": "independent"}, "axis": {"x": "independent"}}
        },
        {
          "width": 122, "height": 120,
          "title": {"text": "E", "dx": -60, "offset": 11},
          "data": {"values": [
            {"series": "A10 JQ1", "dose": 0, "mean": 15.5, "lo": 8.5, "hi": 22.5},
            {"series": "A10 JQ1", "dose": 0.15625, "mean": 18, "lo": 13.5, "hi": 22.5},
            {"series": "A10 JQ1", "dose": 0.3125, "mean": 18, "lo": 10.5, "hi": 25.5},
            {"series": "A10 JQ1", "dose": 0.625, "mean": 20.8, "lo": 15, "hi": 26.5},
            {"series": "A10 JQ1", "dose": 1.25, "mean": 24, "lo": 20.5, "hi": 27.5},
            {"series": "A10 JQ1", "dose": 2.5, "mean": 26.3, "lo": 24, "hi": 28.8},
            {"series": "A10 Control", "dose": 0, "mean": 4.5, "lo": 3, "hi": 6},
            {"series": "A10 Control", "dose": 0.15625, "mean": 8, "lo": 8, "hi": 8},
            {"series": "A10 Control", "dose": 0.3125, "mean": 15.6, "lo": 11.5, "hi": 20},
            {"series": "A10 Control", "dose": 0.625, "mean": 30.7, "lo": 21, "hi": 40.4},
            {"series": "A10 Control", "dose": 1.25, "mean": 49.3, "lo": 37, "hi": 61.8, "sig": "**"},
            {"series": "A10 Control", "dose": 2.5, "mean": 59.8, "lo": 48.5, "hi": 71, "sig": "****"},
            {"series": "C6 JQ1", "dose": 0, "mean": 9, "lo": 6, "hi": 12},
            {"series": "C6 JQ1", "dose": 0.15625, "mean": 8.5, "lo": 3, "hi": 13},
            {"series": "C6 JQ1", "dose": 0.3125, "mean": 8.5, "lo": 2, "hi": 15},
            {"series": "C6 JQ1", "dose": 0.625, "mean": 8.7, "lo": 4, "hi": 13.5},
            {"series": "C6 JQ1", "dose": 1.25, "mean": 8.8, "lo": 5, "hi": 12.5},
            {"series": "C6 JQ1", "dose": 2.5, "mean": 9, "lo": 6, "hi": 12},
            {"series": "C6 Control", "dose": 0, "mean": 8.5, "lo": 8.5, "hi": 8.5},
            {"series": "C6 Control", "dose": 0.15625, "mean": 8.3, "lo": 8.3, "hi": 8.3},
            {"series": "C6 Control", "dose": 0.3125, "mean": 8.3, "lo": 8.3, "hi": 8.3},
            {"series": "C6 Control", "dose": 0.625, "mean": 8.5, "lo": 8.5, "hi": 8.5},
            {"series": "C6 Control", "dose": 1.25, "mean": 8.5, "lo": 8.5, "hi": 8.5},
            {"series": "C6 Control", "dose": 2.5, "mean": 8.3, "lo": 8.3, "hi": 8.3}
          ]},
          "encoding": {"y": {"field": "mean", "type": "quantitative", "scale": {"domain": [0, 80], "nice": false}, "axis": {"values": [0, 20, 40, 60, 80], "title": "% Reactivation", "titleFontSize": 14, "labelFontSize": 9, "titlePadding": 4}}},
          "layer": [
            {
              "encoding": {"x": {"field": "dose", "type": "quantitative", "scale": {"domain": [-0.02315, 0.6829], "nice": false, "zero": false}, "axis": {"values": [0], "labelExpr": "'0'", "title": null, "orient": "bottom", "labelAngle": -45, "labelFontSize": 9}}},
              "layer": [
                {"transform": [{"filter": "datum.dose <= 0.15625"}], "mark": {"type": "line", "color": "black", "strokeWidth": 1.3}, "encoding": {"detail": {"field": "series"}}},
                {"transform": [{"filter": "datum.dose == 0 && datum.series == 'A10 Control'"}], "mark": {"type": "rect", "color": "white"}, "encoding": {"x": {"datum": 0.03183}, "x2": {"datum": 0.07523}, "y": {"datum": -4}, "y2": {"datum": 80}}},
                {"transform": [{"filter": "datum.dose == 0 && datum.series == 'A10 Control'"}], "mark": {"type": "rule", "color": "black", "strokeWidth": 1.3}, "encoding": {"x": {"datum": 0.02315}, "x2": {"datum": 0.04051}, "y": {"datum": -2.3}, "y2": {"datum": 2.3}}},
                {"transform": [{"filter": "datum.dose == 0 && datum.series == 'A10 Control'"}], "mark": {"type": "rule", "color": "black", "strokeWidth": 1.3}, "encoding": {"x": {"datum": 0.06655}, "x2": {"datum": 0.08391}, "y": {"datum": -2.3}, "y2": {"datum": 2.3}}},
                {"transform": [{"filter": "datum.dose == 0 && datum.hi > datum.lo"}], "mark": {"type": "rule", "color": "black", "strokeWidth": 1.3}, "encoding": {"y": {"field": "lo", "type": "quantitative"}, "y2": {"field": "hi"}}},
                {"transform": [{"filter": "datum.dose == 0 && datum.hi > datum.lo"}], "mark": {"type": "tick", "orient": "horizontal", "color": "black", "size": 8, "thickness": 1.3, "opacity": 1}, "encoding": {"y": {"field": "lo", "type": "quantitative"}}},
                {"transform": [{"filter": "datum.dose == 0 && datum.hi > datum.lo"}], "mark": {"type": "tick", "orient": "horizontal", "color": "black", "size": 8, "thickness": 1.3, "opacity": 1}, "encoding": {"y": {"field": "hi", "type": "quantitative"}}},
                {"transform": [{"filter": "datum.dose == 0 && indexof(datum.series, 'C6') != 0"}], "mark": {"type": "point", "shape": "circle", "filled": true, "stroke": "black", "strokeWidth": 1.3, "opacity": 1, "size": 50},
                 "encoding": {"fill": {"condition": {"test": "datum.series == 'A10 JQ1'", "value": "black"}, "value": "white"}}},
                {"transform": [{"filter": "datum.dose == 0 && indexof(datum.series, 'C6') == 0"}], "mark": {"type": "point", "shape": "square", "filled": true, "stroke": "black", "strokeWidth": 1.3, "opacity": 1, "size": 50},
                 "encoding": {"fill": {"condition": {"test": "datum.series == 'C6 JQ1'", "value": "#8a8a8a"}, "value": "white"}}}
              ]
            },
            {
              "encoding": {"x": {"field": "dose", "type": "quantitative", "scale": {"type": "log", "domain": [0.05162, 4], "nice": false}, "axis": {"values": [0.125, 0.25, 0.5, 1, 2, 4], "labelExpr": "datum.value == 0.125 ? '0.12' : format(datum.value, '~g')", "labelAngle": -45, "labelFontSize": 9, "title": "αCD3/CD28[µl]", "titleFontSize": 9.5, "titlePadding": 6, "orient": "bottom"}}},
              "layer": [
                {"transform": [{"filter": "datum.dose > 0"}], "mark": {"type": "line", "color": "black", "strokeWidth": 1.3}, "encoding": {"detail": {"field": "series"}}},
                {"transform": [{"filter": "datum.dose > 0 && datum.hi > datum.lo"}], "mark": {"type": "rule", "color": "black", "strokeWidth": 1.3}, "encoding": {"y": {"field": "lo", "type": "quantitative"}, "y2": {"field": "hi"}}},
                {"transform": [{"filter": "datum.dose > 0 && datum.hi > datum.lo"}], "mark": {"type": "tick", "orient": "horizontal", "color": "black", "size": 8, "thickness": 1.3, "opacity": 1}, "encoding": {"y": {"field": "lo", "type": "quantitative"}}},
                {"transform": [{"filter": "datum.dose > 0 && datum.hi > datum.lo"}], "mark": {"type": "tick", "orient": "horizontal", "color": "black", "size": 8, "thickness": 1.3, "opacity": 1}, "encoding": {"y": {"field": "hi", "type": "quantitative"}}},
                {"transform": [{"filter": "datum.dose > 0 && indexof(datum.series, 'C6') != 0"}], "mark": {"type": "point", "shape": "circle", "filled": true, "stroke": "black", "strokeWidth": 1.3, "opacity": 1, "size": 50},
                 "encoding": {"fill": {"condition": {"test": "datum.series == 'A10 JQ1'", "value": "black"}, "value": "white"}}},
                {"transform": [{"filter": "datum.dose > 0 && indexof(datum.series, 'C6') == 0"}], "mark": {"type": "point", "shape": "square", "filled": true, "stroke": "black", "strokeWidth": 1.3, "opacity": 1, "size": 50},
                 "encoding": {"fill": {"condition": {"test": "datum.series == 'C6 JQ1'", "value": "#8a8a8a"}, "value": "white"}}},
                {"transform": [{"filter": "datum.dose > 0 && datum.sig"}], "mark": {"type": "text", "baseline": "alphabetic", "dy": -3, "fontSize": 9, "color": "black"}, "encoding": {"y": {"field": "hi", "type": "quantitative"}, "text": {"field": "sig"}}},
                {"transform": [{"filter": "datum.dose == 0 && datum.series == 'A10 Control'"}], "mark": {"type": "text", "text": "JQ1", "align": "left", "baseline": "middle", "fontSize": 10.5, "fontWeight": "bold", "color": "black"}, "encoding": {"x": {"datum": 0.0606}, "y": {"datum": 76.7}}},
                {"transform": [{"filter": "datum.dose < 0"}], "mark": {"type": "point", "filled": true, "stroke": "black", "strokeWidth": 1.3, "opacity": 1},
                 "encoding": {
                   "color": {"field": "series", "type": "nominal", "scale": {"domain": ["A10 JQ1", "A10 Control", "C6 JQ1", "C6 Control"], "range": ["black", "white", "#8a8a8a", "white"]}, "legend": {"orient": "none", "legendX": 118, "legendY": 27, "title": null, "labelFontSize": 10, "symbolSize": 144, "rowPadding": 6, "labelOffset": 7, "symbolStrokeColor": "black", "symbolStrokeWidth": 1.3}},
                   "shape": {"field": "series", "type": "nominal", "scale": {"domain": ["A10 JQ1", "A10 Control", "C6 JQ1", "C6 Control"], "range": ["M-1,0L-0.5,0M0.5,0L1,0M0.5,0A0.5,0.5,0,1,1,-0.5,0A0.5,0.5,0,1,1,0.5,0Z", "M-1,0L-0.5,0M0.5,0L1,0M0.5,0A0.5,0.5,0,1,1,-0.5,0A0.5,0.5,0,1,1,0.5,0Z", "M-1,0L-0.45,0M0.45,0L1,0M-0.45,-0.45L0.45,-0.45L0.45,0.45L-0.45,0.45Z", "M-1,0L-0.45,0M0.45,0L1,0M-0.45,-0.45L0.45,-0.45L0.45,0.45L-0.45,0.45Z"]}, "legend": {"orient": "none", "legendX": 118, "legendY": 27, "title": null, "labelFontSize": 10, "symbolSize": 144, "rowPadding": 6, "labelOffset": 7, "symbolStrokeColor": "black", "symbolStrokeWidth": 1.3}}}}
              ]
            }
          ],
          "resolve": {"scale": {"x": "independent"}, "axis": {"x": "independent"}}
        }
      ]
    }
  ]
}
